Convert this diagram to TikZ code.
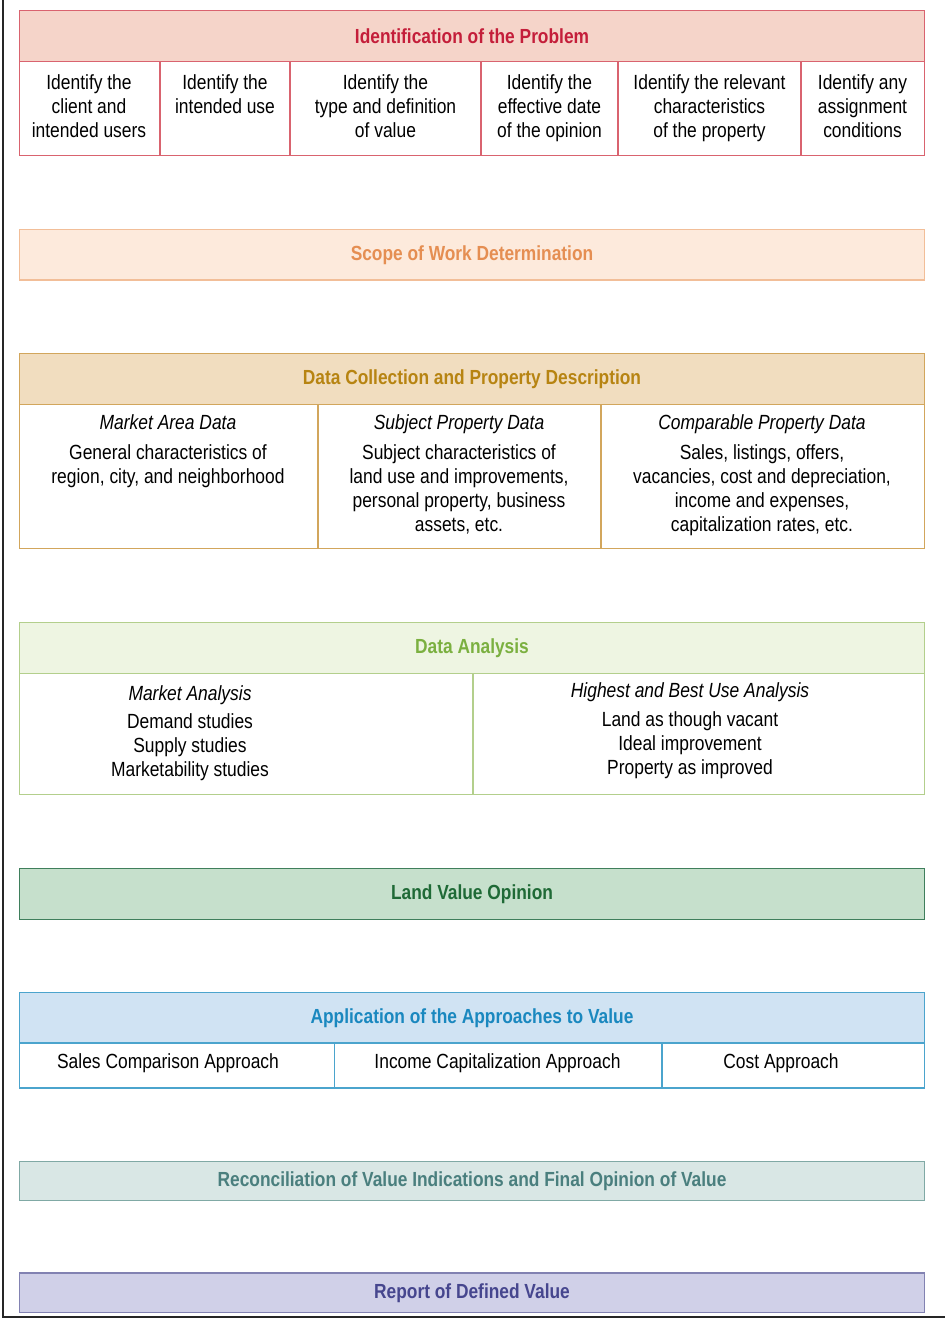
\documentclass[tikz,border=0pt]{standalone}
\usepackage{fontspec}
\setmainfont{Liberation Sans}[FakeStretch=0.85]
\definecolor{pAfill}{HTML}{F5D4C9}\definecolor{pAline}{HTML}{D9636F}\definecolor{pAtext}{HTML}{C41E3A}
\definecolor{pBfill}{HTML}{FDEADC}\definecolor{pBline}{HTML}{F2BE98}\definecolor{pBtext}{HTML}{E58E52}
\definecolor{pCfill}{HTML}{F1DDBF}\definecolor{pCline}{HTML}{D2A65C}\definecolor{pCtext}{HTML}{B78412}
\definecolor{pDfill}{HTML}{EEF5E2}\definecolor{pDline}{HTML}{B3CF8C}\definecolor{pDtext}{HTML}{7BB040}
\definecolor{pEfill}{HTML}{C6E0CC}\definecolor{pEline}{HTML}{3F7F5C}\definecolor{pEtext}{HTML}{1F6A36}
\definecolor{pFfill}{HTML}{D0E3F3}\definecolor{pFline}{HTML}{4BA4CD}\definecolor{pFtext}{HTML}{1A88BF}
\definecolor{pGfill}{HTML}{D9E7E5}\definecolor{pGline}{HTML}{80A9A5}\definecolor{pGtext}{HTML}{4A7F7E}
\definecolor{pHfill}{HTML}{D0D0E8}\definecolor{pHline}{HTML}{8282B2}\definecolor{pHtext}{HTML}{46468E}
\begin{document}
\begin{tikzpicture}[x=1pt,y=-1pt,
  box/.style={draw=#1, line width=1.5pt, anchor=north west, inner sep=0pt, outer sep=0pt},
  head/.style={font=\fontsize{20.4}{24}\selectfont\bfseries, align=center},
  txt/.style={inner sep=0pt, anchor=north, align=center, font=\fontsize{20.5}{24}\selectfont},
]
\useasboundingbox (0,0) rectangle (945,1318);
\fill[white] (0,0) rectangle (945,1318);
% outer frame (left and bottom)
\draw[line width=2pt, black!85] (3,0) -- (3,1317) -- (945,1317);

% ---- Identification of the Problem
\node[box=pAline, fill=pAfill, minimum width=905, minimum height=51, head, text=pAtext] (h1) at (19.5,10.5) {Identification of the Problem};
\node[box=pAline, minimum width=140.5, minimum height=94] (a1) at (19.5,61.5) {};
\node[box=pAline, minimum width=130, minimum height=94] (a2) at (160,61.5) {};
\node[box=pAline, minimum width=191, minimum height=94] (a3) at (290,61.5) {};
\node[box=pAline, minimum width=137, minimum height=94] (a4) at (481,61.5) {};
\node[box=pAline, minimum width=183, minimum height=94] (a5) at (618,61.5) {};
\node[box=pAline, minimum width=123.5, minimum height=94] (a6) at (801,61.5) {};
\node[txt] (ta1) at (89,74) {Identify the\\client and\\intended users};
\node[txt] (ta2) at (225,74) {Identify the\\intended use};
\node[txt] (ta3) at (385.5,74) {Identify the\\type and definition\\of value};
\node[txt] (ta4) at (549.5,74) {Identify the\\effective date\\of the opinion};
\node[txt] (ta5) at (709.5,74) {Identify the relevant\\characteristics\\of the property};
\node[txt] (ta6) at (862.5,74) {Identify any\\assignment\\conditions};

% ---- Scope of Work
\node[box=pBline, fill=pBfill, minimum width=905, minimum height=50.5, head, text=pBtext] (h2) at (19.5,229.5) {Scope of Work Determination};

% ---- Data Collection
\node[box=pCline, fill=pCfill, minimum width=905, minimum height=51, head, text=pCtext] (h3) at (19.5,353.5) {Data Collection and Property Description};
\node[box=pCline, minimum width=298.5, minimum height=144] (c1) at (19.5,404.5) {};
\node[box=pCline, minimum width=283, minimum height=144] (c2) at (318,404.5) {};
\node[box=pCline, minimum width=323.5, minimum height=144] (c3) at (601,404.5) {};
\node[txt] (tc1) at (168,414) {\textit{Market Area Data}\\[6pt]General characteristics of\\region, city, and neighborhood};
\node[txt] (tc2) at (459,414) {\textit{Subject Property Data}\\[6pt]Subject characteristics of\\land use and improvements,\\personal property, business\\assets, etc.};
\node[txt] (tc3) at (762,414) {\textit{Comparable Property Data}\\[6pt]Sales, listings, offers,\\vacancies, cost and depreciation,\\income and expenses,\\capitalization rates, etc.};

% ---- Data Analysis
\node[box=pDline, fill=pDfill, minimum width=905, minimum height=51, head, text=pDtext] (h4) at (19.5,622.5) {Data Analysis};
\node[box=pDline, minimum width=453.5, minimum height=121] (d1) at (19.5,673.5) {};
\node[box=pDline, minimum width=451.5, minimum height=121] (d2) at (473,673.5) {};
\node[txt] (td1) at (190,685) {\textit{Market Analysis}\\[4pt]Demand studies\\Supply studies\\Marketability studies};
\node[txt] (td2) at (690,682) {\textit{Highest and Best Use Analysis}\\[5pt]Land as though vacant\\Ideal improvement\\Property as improved};

% ---- Land Value Opinion
\node[box=pEline, fill=pEfill, minimum width=905, minimum height=51, head, text=pEtext] (h5) at (19.5,868.5) {Land Value Opinion};

% ---- Application of the Approaches
\node[box=pFline, fill=pFfill, minimum width=905, minimum height=50.5, head, text=pFtext] (h6) at (19.5,992.5) {Application of the Approaches to Value};
\node[box=pFline, minimum width=315, minimum height=45] (f1) at (19.5,1043) {};
\node[box=pFline, minimum width=327.5, minimum height=45] (f2) at (334.5,1043) {};
\node[box=pFline, minimum width=262.5, minimum height=45] (f3) at (662,1043) {};
\node[txt] (tf1) at (168,1053) {Sales Comparison Approach};
\node[txt] (tf2) at (497.5,1053) {Income Capitalization Approach};
\node[txt] (tf3) at (781,1053) {Cost Approach};

% ---- Reconciliation
\node[box=pGline, fill=pGfill, minimum width=905, minimum height=39, head, text=pGtext] (h7) at (19.5,1161.5) {Reconciliation of Value Indications and Final Opinion of Value};

% ---- Report
\node[box=pHline, fill=pHfill, minimum width=905, minimum height=39.5, head, text=pHtext] (h8) at (19.5,1273) {Report of Defined Value};
\end{tikzpicture}
\end{document}
